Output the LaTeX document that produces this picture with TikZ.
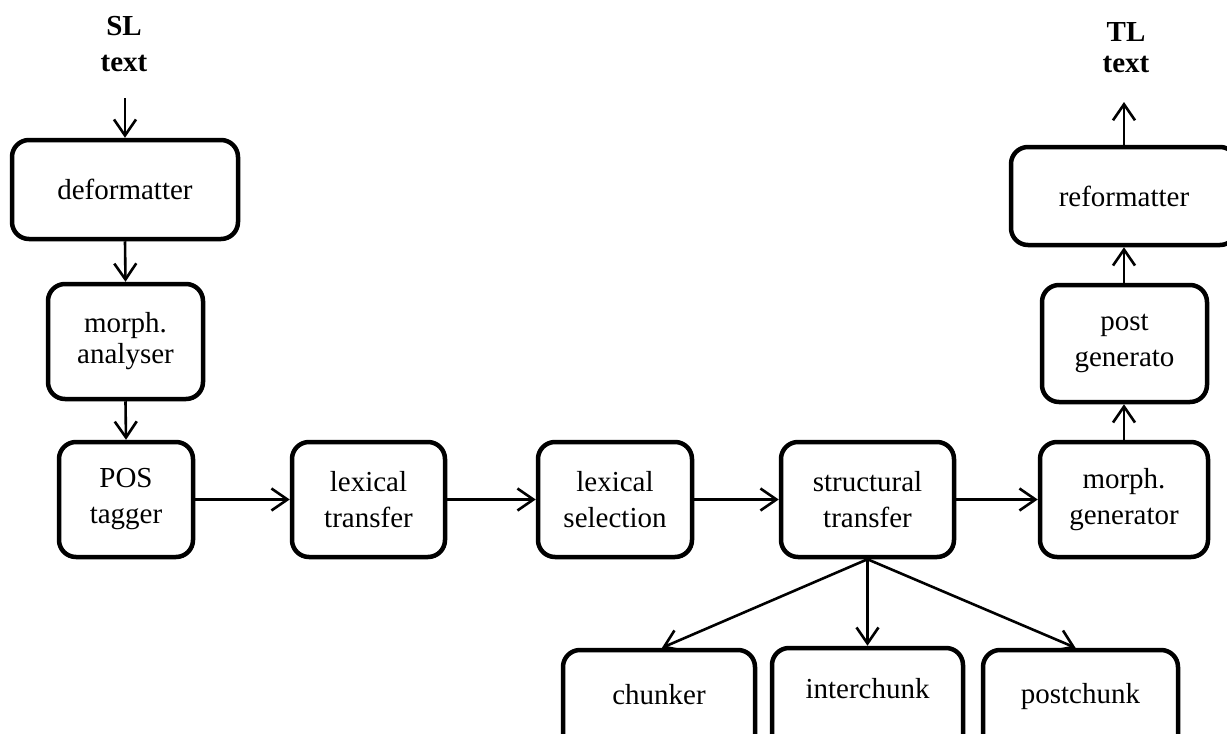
\documentclass[tikz,border=0pt]{standalone}
\usepackage{fontspec}
\setmainfont{Liberation Serif}
\usetikzlibrary{arrows.meta}
\tikzset{
  box/.style={draw=black, line width=4.5pt, rounded corners=17pt, fill=white,
    align=center, inner sep=0pt, font=\fontsize{29}{36}\selectfont},
  lbl/.style={align=center, inner sep=0pt, font=\fontsize{29}{36}\selectfont\bfseries},
  arr/.style={line width=2.6pt, -{Straight Barb[length=16pt,width=22pt,line width=2.6pt]}},
  bot/.style={box, text height=20pt}
}
\begin{document}
\begin{tikzpicture}[x=1pt,y=-1pt]
\useasboundingbox (0,0) rectangle (1227,734);
% labels
\node[lbl] (sl) at (124,44.2) {SL\\text};
\node[lbl, font=\fontsize{29}{31}\selectfont\bfseries] (tl) at (1126,47.7) {TL\\text};
\coordinate (slend) at (125,98);
\coordinate (tlend) at (1124,102);
% boxes
\node[box, minimum width=226pt, minimum height=99pt] (def) at (125,189.5) {deformatter};
\node[box, minimum width=155pt, minimum height=115pt, font=\fontsize{29}{31}\selectfont] (ma) at (125.5,341.5) {morph.\\analyser};
\node[box, minimum width=134pt, minimum height=115pt] (pos) at (126,499.5) {POS\\tagger};
\node[box, minimum width=153pt, minimum height=115pt] (lt) at (368.5,499.5) {lexical\\transfer};
\node[box, minimum width=154pt, minimum height=115pt] (ls) at (615,499.5) {lexical\\selection};
\node[box, minimum width=173pt, minimum height=115pt] (st) at (867.5,499.5) {structural\\transfer};
\node[box, minimum width=168pt, minimum height=115pt] (mg) at (1124,499.5) {morph.\\generator};
\node[box, minimum width=165pt, minimum height=117pt] (pg) at (1124.5,343.5) {post\\generato};
\node[box, minimum width=226pt, minimum height=98pt] (ref) at (1124,196) {reformatter};
\node[bot, minimum width=192pt, minimum height=115pt, text depth=27pt] (ch) at (659,707.5) {chunker};
\node[bot, minimum width=191pt, minimum height=115pt, text depth=35pt] (ic) at (867.5,705.5) {interchunk};
\node[bot, minimum width=195pt, minimum height=115pt, text depth=29pt] (pc) at (1080.5,707.5) {postchunk};
% connectors
\draw[arr] (slend) -- (def.north);
\draw[arr] (def.south) -- (ma.north);
\draw[arr] (ma.south) -- (pos.north);
\draw[arr] (pos.east) -- (lt.west);
\draw[arr] (lt.east) -- (ls.west);
\draw[arr] (ls.east) -- (st.west);
\draw[arr] (st.east) -- (mg.west);
\draw[arr] (mg.north) -- (mg.north |- pg.south);
\draw[arr] (pg.north -| ref.south) -- (ref.south);
\draw[arr] (ref.north) -- (tlend);
\draw[arr] (st.south) -- ([xshift=3pt]ch.north);
\draw[arr] (st.south) -- (ic.north);
\draw[arr] (st.south) -- ([xshift=-5pt]pc.north);
\end{tikzpicture}
\end{document}
